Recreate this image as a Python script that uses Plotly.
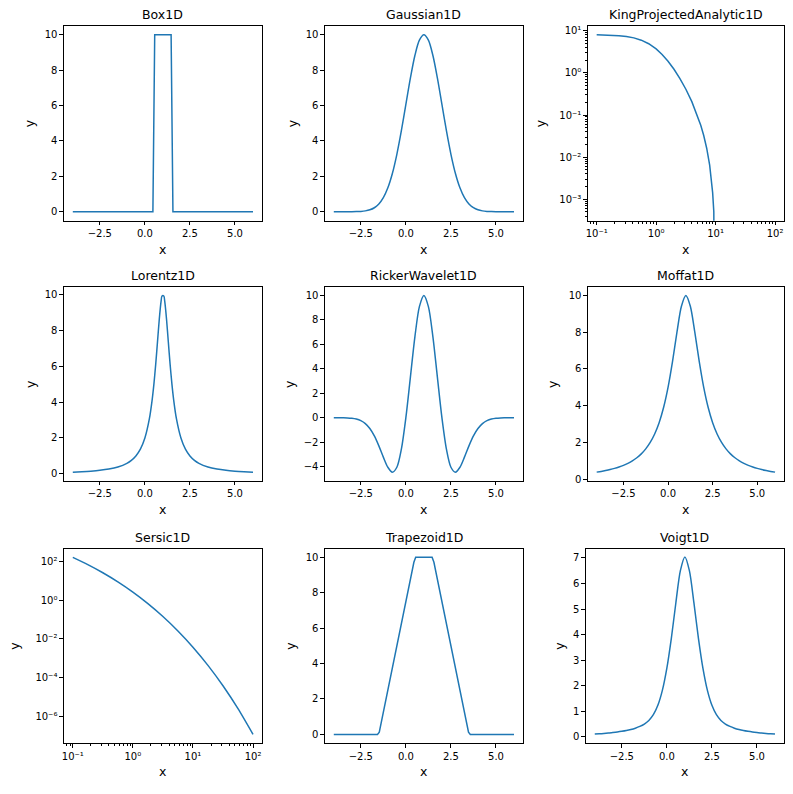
import plotly.graph_objects as go

# ---------------- data ----------------
X_LIN = [-4.0, -3.75, -3.5, -3.25, -3.0, -2.75, -2.5, -2.25, -2.0, -1.75, -1.5, -1.25,
         -1.0, -0.75, -0.5, -0.25, 0.0, 0.25, 0.5, 0.75, 1.0, 1.25, 1.5, 1.75, 2.0,
         2.25, 2.5, 2.75, 3.0, 3.25, 3.5, 3.75, 4.0, 4.25, 4.5, 4.75, 5.0, 5.25, 5.5, 5.75, 6.0]

X_BOX = [-4.0, 0.444, 0.545, 1.455, 1.556, 6.0]
Y_BOX = [0.0, 0.0, 10.0, 10.0, 0.0, 0.0]

Y_GAUSS = [0.0, 0.0, 0.0, 0.001, 0.003, 0.009, 0.022, 0.051, 0.111, 0.228, 0.439, 0.796,
           1.353, 2.163, 3.247, 4.578, 6.065, 7.548, 8.825, 9.692, 10.0,
           9.692, 8.825, 7.548, 6.065, 4.578, 3.247, 2.163, 1.353, 0.796, 0.439, 0.228,
           0.111, 0.051, 0.022, 0.009, 0.003, 0.001, 0.0, 0.0, 0.0]

R_KING = [0.1, 0.1334, 0.1778, 0.2371, 0.3162, 0.4217, 0.5623, 0.7499, 1.0, 1.2589,
          1.5849, 1.9953, 2.5119, 3.1623, 3.9811, 5.0119, 5.6234, 6.3096, 7.0795,
          7.9433, 8.5114, 8.9125, 9.3260, 10.0]
Y_KING = [8.020, 7.952, 7.833, 7.630, 7.292, 6.756, 5.962, 4.908, 3.692, 2.730, 1.885,
          1.215, 0.7311, 0.4081, 0.2077, 0.09248, 0.05712, 0.03253, 0.01629, 0.00645,
          0.00295, 0.00144, 0.000506, 0.0]

X_LOR = [-4.0, -3.5, -3.0, -2.5, -2.0, -1.5, -1.0, -0.75, -0.5, -0.25, 0.0, 0.25, 0.4,
         0.5, 0.6, 0.7, 0.8, 0.9, 0.95, 1.05, 1.1, 1.2, 1.3, 1.4, 1.5, 1.6, 1.75, 2.0,
         2.25, 2.5, 2.75, 3.0, 3.5, 4.0, 4.5, 5.0, 5.5, 6.0]
Y_LOR = [0.099, 0.122, 0.154, 0.2, 0.270, 0.385, 0.588, 0.755, 1.0, 1.379, 2.0, 3.077,
         4.098, 5.0, 6.098, 7.353, 8.621, 9.615, 9.901, 9.901, 9.615, 8.621, 7.353,
         6.098, 5.0, 4.098, 3.077, 2.0, 1.379, 1.0, 0.755, 0.588, 0.385, 0.270, 0.2,
         0.154, 0.122, 0.099]

Y_RICKER = [-0.001, -0.003, -0.008, -0.020, -0.050, -0.115, -0.246, -0.486, -0.889,
            -1.496, -2.307, -3.232, -4.060, -4.461, -4.058, -2.575, 0.0, 3.302, 6.619,
            9.087, 10.0, 9.087, 6.619, 3.302, 0.0, -2.575, -4.058, -4.461, -4.060,
            -3.232, -2.307, -1.496, -0.889, -0.486, -0.246, -0.115, -0.050, -0.020,
            -0.008, -0.003, -0.001]

Y_MOFFAT = [0.385, 0.424, 0.471, 0.525, 0.588, 0.664, 0.755, 0.865, 1.0, 1.168, 1.379,
            1.649, 2.0, 2.462, 3.077, 3.902, 5.0, 6.4, 8.0, 9.412, 10.0, 9.412, 8.0,
            6.4, 5.0, 3.902, 3.077, 2.462, 2.0, 1.649, 1.379, 1.168, 1.0, 0.865, 0.755,
            0.664, 0.588, 0.525, 0.471, 0.424, 0.385]

R_SERSIC = [0.1, 0.1778, 0.3162, 0.5623, 1.0, 1.7783, 3.1623, 5.6234, 10.0, 17.783,
            31.623, 56.234, 100.0]
Y_SERSIC = [159.3, 67.3, 25.59, 8.645, 2.559, 0.6528, 0.1410, 0.02525, 3.666e-3,
            4.207e-4, 3.707e-5, 2.428e-6, 1.141e-7]

X_TRAP = [-4.0, -1.576, -1.475, 0.444, 0.545, 1.455, 1.556, 3.475, 3.576, 6.0]
Y_TRAP = [0.0, 0.0, 0.125, 9.72, 10.0, 10.0, 9.72, 0.125, 0.0, 0.0]

Y_VOIGT = [0.109, 0.120, 0.133, 0.149, 0.167, 0.189, 0.216, 0.248, 0.289, 0.340, 0.408,
           0.502, 0.643, 0.867, 1.233, 1.817, 2.688, 3.866, 5.249, 6.504, 7.041, 6.504,
           5.249, 3.866, 2.688, 1.817, 1.233, 0.867, 0.643, 0.502, 0.408, 0.340, 0.289,
           0.248, 0.216, 0.189, 0.167, 0.149, 0.133, 0.120, 0.109]

LIN_XTICKS = [-2.5, 0.0, 2.5, 5.0]
LIN_XTEXT = ["\u22122.5", "0.0", "2.5", "5.0"]
LOG_XTICKS = [0.1, 1, 10, 100]
LOG_XTEXT = ["10\u207b\u00b9", "10\u2070", "10\u00b9", "10\u00b2"]
KING_YTICKS = [10, 1, 0.1, 0.01, 0.001]
KING_YTEXT = ["10\u00b9", "10\u2070", "10\u207b\u00b9", "10\u207b\u00b2", "10\u207b\u00b3"]
SERSIC_YTICKS = [100, 1, 1e-2, 1e-4, 1e-6]
SERSIC_YTEXT = ["10\u00b2", "10\u2070", "10\u207b\u00b2", "10\u207b\u2074", "10\u207b\u2076"]

# ---------------- layout geometry (window pixels) ----------------
OFF = 8                     # default page margin around the plot div
W, H = 793 - 2 * OFF, 794 - 2 * OFF
BLUE = "#1f77b4"
FONT = "DejaVu Sans"


def fx(px):
    return (px - OFF) / W


def fy(py):
    return 1 - (py - OFF) / H


minor_log = [m * 10.0 ** e for e in range(-5, 3) for m in range(2, 10)]


def clip_log(vals):
    # matplotlib clips non-positive values on a log axis to a tiny number
    return [v if v > 0 else 1e-12 for v in vals]


panels = [
    dict(title="Box1D", x=X_BOX, y=Y_BOX, shape="linear", log=False,
         xr=[-4.5, 6.5], yr=[-0.5, 10.5], yt=[0, 2, 4, 6, 8, 10],
         px=(62, 261), py=(25, 221), ylx=27),
    dict(title="Gaussian1D", x=X_LIN, y=Y_GAUSS, shape="spline", log=False,
         xr=[-4.5, 6.5], yr=[-0.5, 10.5], yt=[0, 2, 4, 6, 8, 10],
         px=(324, 523), py=(25, 221), ylx=291),
    dict(title="KingProjectedAnalytic1D", x=R_KING, y=clip_log(Y_KING), shape="linear",
         log=True, xr=[-1.15, 2.15], yr=[-3.506, 1.114], yt=KING_YTICKS,
         ytext=KING_YTEXT, yminor=True,
         px=(588, 785), py=(25, 221), ylx=540),
    dict(title="Lorentz1D", x=X_LOR, y=Y_LOR, shape="spline", log=False,
         xr=[-4.5, 6.5], yr=[-0.39, 10.39], yt=[0, 2, 4, 6, 8, 10],
         px=(62, 261), py=(288, 483), ylx=28),
    dict(title="RickerWavelet1D", x=X_LIN, y=Y_RICKER, shape="spline", log=False,
         xr=[-4.5, 6.5], yr=[-5.18, 10.68], yt=[-4, -2, 0, 2, 4, 6, 8, 10],
         px=(324, 523), py=(288, 483), ylx=288),
    dict(title="Moffat1D", x=X_LIN, y=Y_MOFFAT, shape="spline", log=False,
         xr=[-4.5, 6.5], yr=[-0.095, 10.45], yt=[0, 2, 4, 6, 8, 10],
         px=(588, 785), py=(288, 483), ylx=552),
    dict(title="Sersic1D", x=R_SERSIC, y=Y_SERSIC, shape="spline", log=True,
         xr=[-1.15, 2.15], yr=[-7.40, 2.66], yt=SERSIC_YTICKS, ytext=SERSIC_YTEXT,
         yminor=False, px=(62, 261), py=(551, 747), ylx=13),
    dict(title="Trapezoid1D", x=X_TRAP, y=Y_TRAP, shape="linear", log=False,
         xr=[-4.5, 6.5], yr=[-0.5, 10.5], yt=[0, 2, 4, 6, 8, 10],
         px=(324, 523), py=(551, 747), ylx=290),
    dict(title="Voigt1D", x=X_LIN, y=Y_VOIGT, shape="spline", log=False,
         xr=[-4.5, 6.5], yr=[-0.25, 7.37], yt=[0, 1, 2, 3, 4, 5, 6, 7],
         px=(586, 785), py=(551, 747), ylx=560),
]

fig = go.Figure()
layout = dict(width=W, height=H, margin=dict(l=0, r=0, t=0, b=0),
              paper_bgcolor="white", plot_bgcolor="white", showlegend=False,
              font=dict(family=FONT, color="black"))
annotations = []

common = dict(showline=True, linecolor="black", linewidth=0.8, mirror=True,
              ticks="outside", ticklen=3.5, tickwidth=0.8, tickcolor="black",
              tickfont=dict(family=FONT, size=10, color="black"),
              showgrid=False, zeroline=False, tickmode="array")
minor_cfg = dict(ticks="outside", ticklen=2, tickwidth=0.6, tickcolor="black",
                 tickmode="array", tickvals=minor_log, showgrid=False)

for i, p in enumerate(panels, start=1):
    sx = "" if i == 1 else str(i)
    fig.add_trace(go.Scatter(x=p["x"], y=p["y"], mode="lines",
                             line=dict(color=BLUE, width=1.5, shape=p["shape"],
                                       smoothing=0.8),
                             xaxis="x" + sx, yaxis="y" + sx, hoverinfo="skip"))
    x0, x1 = p["px"]
    y0, y1 = p["py"]
    xa = dict(common, domain=[fx(x0), fx(x1)], anchor="y" + sx, range=p["xr"])
    ya = dict(common, domain=[fy(y1), fy(y0)], anchor="x" + sx, range=p["yr"])
    if p["log"]:
        xa.update(type="log", tickvals=LOG_XTICKS, ticktext=LOG_XTEXT, minor=minor_cfg)
        ya.update(type="log", tickvals=p["yt"], ticktext=p["ytext"])
        if p["yminor"]:
            ya.update(minor=minor_cfg)
    else:
        xa.update(tickvals=LIN_XTICKS, ticktext=LIN_XTEXT)
        ya.update(tickvals=p["yt"],
                  ticktext=[("\u2212" + str(-v)) if v < 0 else str(v) for v in p["yt"]])
    layout["xaxis" + sx] = xa
    layout["yaxis" + sx] = ya

    cx = fx((x0 + x1) / 2)
    annotations.append(dict(text=p["title"], x=cx, y=fy(y0), xref="paper",
                            yref="paper", xanchor="center", yanchor="bottom",
                            yshift=2, showarrow=False,
                            font=dict(family=FONT, size=12.5, color="black")))
    annotations.append(dict(text="x", x=cx, y=fy(y1), xref="paper", yref="paper",
                            xanchor="center", yanchor="top", yshift=-19,
                            showarrow=False,
                            font=dict(family=FONT, size=12.5, color="black")))
    annotations.append(dict(text="y", x=fx(p["ylx"]), y=fy((y0 + y1) / 2),
                            xref="paper", yref="paper", xanchor="center",
                            yanchor="middle", textangle=-90, showarrow=False,
                            font=dict(family=FONT, size=12.5, color="black")))

layout["annotations"] = annotations
fig.update_layout(**layout)
fig.write_html("out.html")
